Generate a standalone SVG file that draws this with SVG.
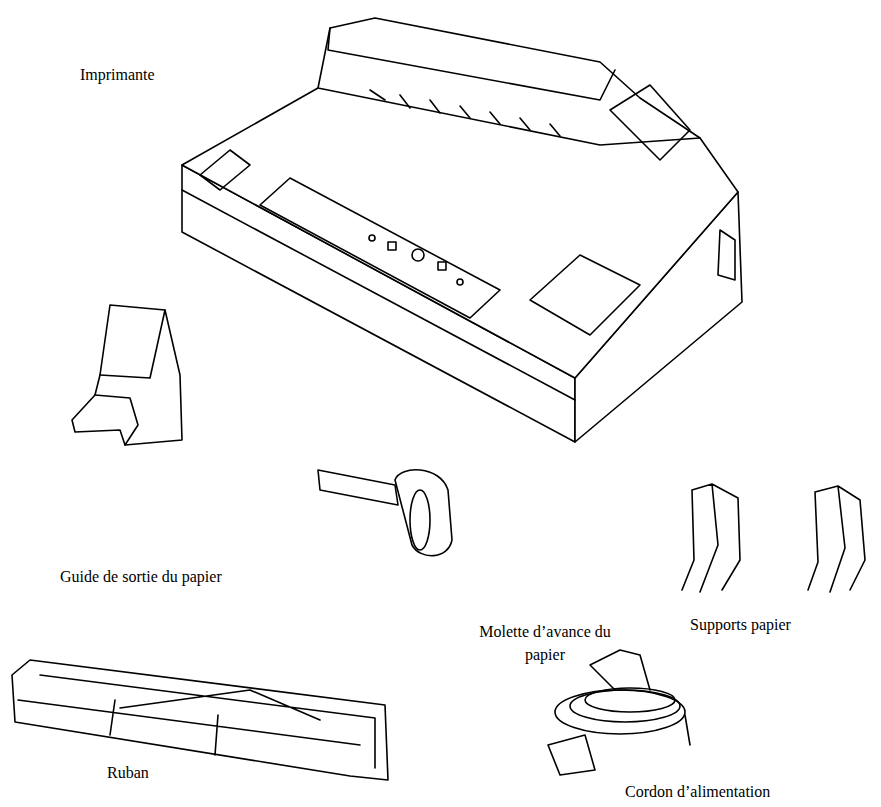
<svg xmlns="http://www.w3.org/2000/svg" width="881" height="807" viewBox="0 0 881 807">
<style>
.l{fill:none;stroke:#000;stroke-width:1.6;stroke-linejoin:round;stroke-linecap:round}
.w{fill:#fff;stroke:#000;stroke-width:1.6;stroke-linejoin:round}
text{font-family:"Liberation Serif",serif;font-size:16px;fill:#000}
</style>
<rect width="881" height="807" fill="#fff"/>
<g id="imprimante">
<path class="w" d="M182,165 L575,378 L575,442 L182,232 Z"/>
<path class="w" d="M575,378 L738,192 L742,302 L575,442 Z"/>
<path class="w" d="M182,165 L318,88 L330,28 L375,18 L600,62 L640,98 L700,138 L738,192 L575,378 Z"/>
<path class="l" d="M330,28 L328,50 L600,100 L615,70"/>
<path class="l" d="M318,88 L600,145 L700,138"/>
<path class="l" d="M200,175 L230,150 L250,165 L220,190 Z"/>
<path class="l" d="M260,205 L290,178 L500,290 L470,318 Z"/>
<path class="l" d="M182,190 L575,400"/>
<path class="l" d="M530,300 L580,255 L640,285 L590,335 Z"/>
<path class="l" d="M610,110 L650,85 L690,130 L660,160 Z"/>
<path class="l" d="M720,230 L735,240 L735,280 L718,275 Z"/>
<path class="l" d="M370,90 L385,100 M400,95 L410,108 M430,100 L440,113 M460,106 L470,118 M490,112 L500,124 M520,118 L530,130 M550,124 L560,136"/>
<circle class="l" cx="372" cy="238" r="3"/>
<rect class="l" x="388" y="242" width="8" height="8"/>
<circle class="l" cx="418" cy="255" r="6"/>
<rect class="l" x="438" y="262" width="8" height="8"/>
<circle class="l" cx="460" cy="282" r="3"/>
</g>
<g id="guide">
<path class="w" d="M110,305 L165,310 L180,375 L182,440 L125,445 L120,430 L75,432 L72,420 L95,395 L100,375 Z"/>
<path class="l" d="M95,395 L130,398 L138,425 L125,445 M100,375 L150,378 L165,310"/>
</g>
<g id="molette">
<path class="w" d="M318,470 L395,485 L398,505 L320,490 Z"/>
<path class="w" d="M395,480 C400,465 440,465 448,490 L452,540 C448,560 420,560 412,545 Z"/>
<ellipse class="l" cx="420" cy="520" rx="10" ry="30"/>
</g>
<g id="supports">
<path class="l" d="M692,490 L712,484 L718,545 L700,592 M692,490 L694,560 L682,590 M712,484 L738,498 L740,560 L722,590"/>
<path class="l" d="M815,492 L838,486 L845,548 L830,592 M815,492 L818,562 L808,590 M838,486 L860,500 L865,560 L850,590"/>
</g>
<g id="ruban">
<path class="w" d="M30,660 L385,705 L388,780 L350,776 L15,722 L12,675 Z"/>
<path class="l" d="M40,675 L375,718 L375,768 M18,700 L360,745 M110,735 L115,700 M215,755 L218,715 M120,708 L250,690 L320,720"/>
</g>
<g id="cordon">
<ellipse class="l" cx="620" cy="712" rx="65" ry="22"/>
<ellipse class="l" cx="625" cy="706" rx="55" ry="16"/>
<ellipse class="l" cx="630" cy="700" rx="45" ry="12"/>
<path class="l" d="M590,665 L615,690 M640,655 L650,690 M590,665 L620,650 L640,655 M685,715 L690,745"/>
<path class="w" d="M548,745 L585,735 L595,770 L560,775 Z"/>
</g>
<g id="labels">
<text x="80" y="80">Imprimante</text>
<text x="60" y="582">Guide de sortie du papier</text>
<text x="545" y="637" text-anchor="middle">Molette d’avance du</text>
<text x="545" y="660" text-anchor="middle">papier</text>
<text x="690" y="630">Supports papier</text>
<text x="107" y="778">Ruban</text>
<text x="625" y="797">Cordon d’alimentation</text>
</g>
</svg>
